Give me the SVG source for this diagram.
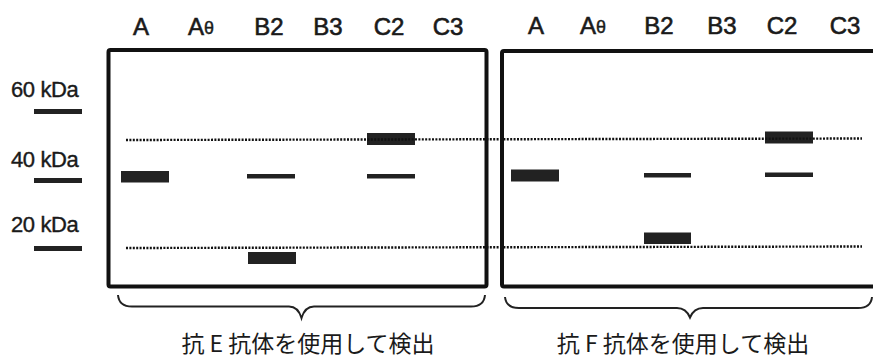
<svg xmlns="http://www.w3.org/2000/svg" width="873" height="359" viewBox="0 0 873 359">
<style>
.lane{font-family:"Liberation Sans","Noto Sans CJK JP",sans-serif;font-size:24px;fill:#1a1a1a;stroke:#1a1a1a;stroke-width:0.6;text-anchor:middle}
.sup{font-size:18px;stroke-width:0.4}
.mw{font-family:"Liberation Sans",sans-serif;font-size:22px;fill:#1a1a1a;stroke:#1a1a1a;stroke-width:0.4;letter-spacing:-0.4px}
.cap{font-family:"Noto Sans CJK JP",sans-serif;font-size:23px;fill:#1a1a1a;text-anchor:middle}
.panel{fill:none;stroke:#111;stroke-width:4}
.band{fill:#222}
.dot{stroke:#111;stroke-width:2.4;stroke-dasharray:2 1.4;fill:none}
.brace{fill:none;stroke:#222;stroke-width:2}
</style>
<rect width="873" height="359" fill="#fff"/>
<g id="ladder">
<text class="mw" x="11" y="97">60 kDa</text>
<rect class="band" x="34" y="109" width="48" height="5"/>
<text class="mw" x="11" y="167">40 kDa</text>
<rect class="band" x="34" y="178" width="48" height="5"/>
<text class="mw" x="11" y="232">20 kDa</text>
<rect class="band" x="34" y="246" width="48" height="5"/>
</g>
<g id="panelE">
<rect class="panel" x="108.5" y="50" width="378" height="236.5" rx="2"/>
<text class="lane" x="141" y="35">A</text>
<text class="lane" x="201" y="35">A<tspan class="sup" dy="-1">θ</tspan></text>
<text class="lane" x="269" y="35">B2</text>
<text class="lane" x="328" y="35">B3</text>
<text class="lane" x="389" y="35">C2</text>
<text class="lane" x="448" y="35">C3</text>
<rect class="band" x="121" y="171" width="48" height="11.5"/>
<rect class="band" x="247" y="174" width="48" height="4.5"/>
<rect class="band" x="248" y="252" width="48" height="12"/>
<rect class="band" x="367" y="133" width="48" height="12"/>
<rect class="band" x="367" y="174" width="48" height="4.5"/>
</g>
<g id="panelF">
<rect class="panel" x="502" y="51" width="376" height="235.5" rx="2"/>
<text class="lane" x="536" y="34">A</text>
<text class="lane" x="593" y="34">A<tspan class="sup" dy="-1">θ</tspan></text>
<text class="lane" x="659" y="34">B2</text>
<text class="lane" x="722" y="34">B3</text>
<text class="lane" x="782" y="34">C2</text>
<text class="lane" x="845" y="34">C3</text>
<rect class="band" x="511" y="169.5" width="48" height="12"/>
<rect class="band" x="644" y="173" width="47" height="4.5"/>
<rect class="band" x="644" y="232.5" width="47" height="11.5"/>
<rect class="band" x="765" y="131.5" width="48" height="12"/>
<rect class="band" x="765" y="172.5" width="48" height="4.5"/>
</g>
<g id="connectors">
<line class="dot" x1="126" y1="140" x2="862" y2="138.5"/>
<line class="dot" x1="126" y1="248" x2="862" y2="246.5"/>
<path class="brace" d="M118 295 Q119 306.5 132 306.5 L289 306.5 Q298 306.5 301.5 318 Q305 306.5 314 306.5 L471 306.5 Q484 306.5 485 295"/>
<path class="brace" d="M505 297 Q506 308 519 308 L677 308 Q686 308 690 317.5 Q694 308 703 308 L858 308 Q871 308 872 297"/>
</g>
<g id="labels">
<text class="cap" x="308" y="352">抗 E 抗体を使用して検出</text>
<text class="cap" x="683" y="352">抗 F 抗体を使用して検出</text>
</g>
</svg>
